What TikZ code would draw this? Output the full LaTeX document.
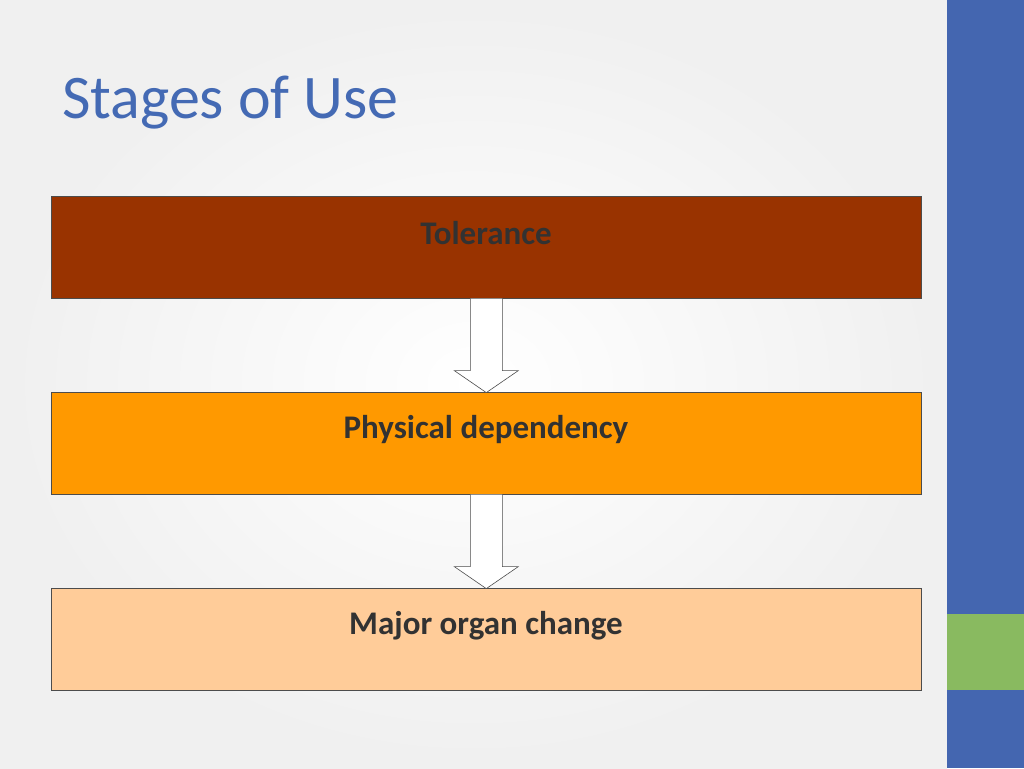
\documentclass[tikz,border=0pt]{standalone}
\usepackage{fontspec}
\setmainfont{Carlito}
\definecolor{titleblue}{RGB}{68,106,180}
\definecolor{barblue}{RGB}{68,102,176}
\definecolor{bargreen}{RGB}{137,186,96}
\definecolor{c1}{HTML}{993300}
\definecolor{c2}{HTML}{FF9900}
\definecolor{c3}{HTML}{FFCC99}
\definecolor{txt}{RGB}{50,50,50}
\tikzset{stagebox/.style={draw=black!70,line width=0.6pt,minimum width=870pt,minimum height=102pt,anchor=north west,inner sep=0pt},
 stagetext/.style={font=\bfseries\fontsize{33}{38}\selectfont,text=txt},
 blockarrow/.style={draw=black!70,fill=white,line width=0.6pt}}
\begin{document}
\begin{tikzpicture}[x=1pt,y=-1pt]
\useasboundingbox (0,0) rectangle (1024,768);
\shade[inner color=white,outer color=black!6] (0,0) rectangle (947,768);
\fill[barblue] (947,0) rectangle (1024,768);
\fill[bargreen] (947,614) rectangle (1024,690);
\node[anchor=base west,text=titleblue,font=\fontsize{62}{70}\selectfont,inner sep=0pt] (title) at (62,118) {Stages of Use};
\node[stagebox,fill=c1] (b1) at (51,196) {};
\node[stagebox,fill=c2] (b2) at (51,392) {};
\node[stagebox,fill=c3] (b3) at (51,588) {};
\node[stagetext] (t1) at (486,233) {Tolerance};
\node[stagetext] (t2) at (486,430) {Physical dependency};
\node[stagetext] (t3) at (486,626) {Major organ change};
\draw[blockarrow] (b1.south) ++(-16,0) -- ++(0,72) -- ++(-16,0) -- ++(32,22) -- ++(32,-22) -- ++(-16,0) -- ++(0,-72);
\draw[blockarrow] (b2.south) ++(-16,0) -- ++(0,72) -- ++(-16,0) -- ++(32,22) -- ++(32,-22) -- ++(-16,0) -- ++(0,-72);
\end{tikzpicture}
\end{document}
